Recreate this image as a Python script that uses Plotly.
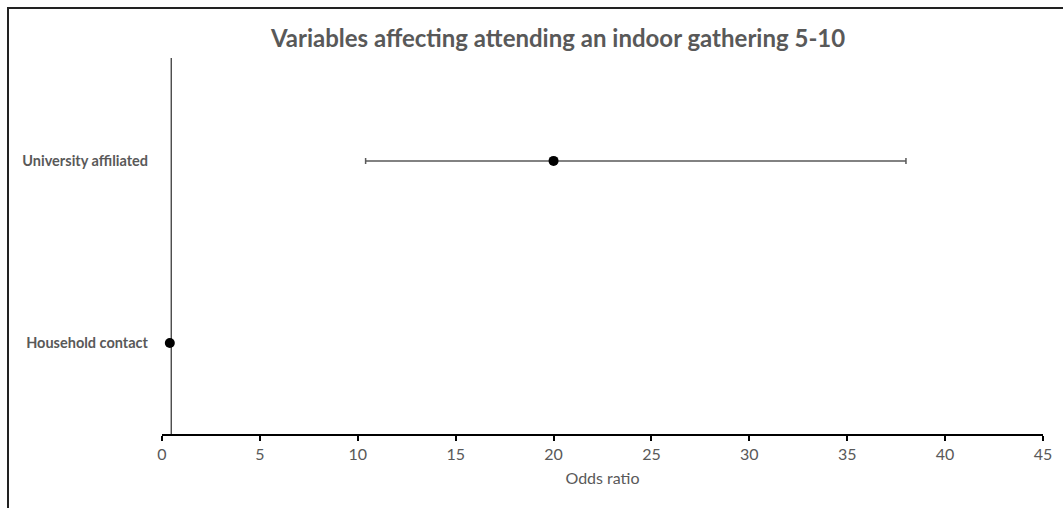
import plotly.graph_objects as go

categories = ["Household contact", "University affiliated"]
cat_pos = [1, 3]
odds = [0.4, 20.0]
ci_low = [0.4, 10.4]
ci_high = [0.4, 38.0]
ref_line_x = 0.47
x_ticks = [0, 5, 10, 15, 20, 25, 30, 35, 40, 45]

err_plus = [h - o for h, o in zip(ci_high, odds)]
err_minus = [o - l for o, l in zip(odds, ci_low)]

W, H = 1063, 508
L, R, T, B = 162, 20, 58, 74
pw, ph = W - L - R, H - T - B

fig = go.Figure()
# vertical reference line
fig.add_trace(go.Scatter(x=[ref_line_x, ref_line_x], y=[0, 4.13], mode="lines",
                         line=dict(color="black", width=1), hoverinfo="skip", showlegend=False))
fig.add_trace(go.Scatter(
    x=odds, y=cat_pos, mode="markers",
    marker=dict(color="black", size=10),
    error_x=dict(type="data", symmetric=False, array=err_plus, arrayminus=err_minus,
                 color="#5a5a5a", thickness=1.5, width=3),
    showlegend=False))

fig.update_layout(
    width=W, height=H,
    margin=dict(l=L, r=R, t=T, b=B),
    paper_bgcolor="white", plot_bgcolor="white",
    font=dict(family="Lato", color="#595959"),
    title=dict(text="<b>Variables affecting attending an indoor gathering 5-10</b>",
               x=0.525, xref="container", xanchor="center",
               y=1 - 39 / H, yref="container", yanchor="middle",
               font=dict(size=24, color="#595959", family="Lato")),
    xaxis=dict(range=[0, 45], tickvals=x_ticks, showgrid=False, zeroline=False,
               showline=True, linecolor="black", linewidth=1.5,
               ticks="outside", ticklen=5, tickcolor="black", tickwidth=1.5,
               tickfont=dict(size=16, color="#595959"),
               title=dict(text="Odds ratio", font=dict(size=16, color="#595959"), standoff=11)),
    yaxis=dict(range=[0, 4.13], tickvals=cat_pos, ticktext=["<b>%s</b>" % c for c in categories],
               showgrid=False, zeroline=False, showline=False, ticks="",
               ticklabelstandoff=13, tickfont=dict(size=14.5, color="#595959")),
    shapes=[dict(type="rect", xref="paper", yref="paper",
                 x0=(8 - L) / pw, x1=(W + 10 - L) / pw,
                 y0=-(B + 10) / ph, y1=(H - B - 8) / ph,
                 line=dict(color="#222222", width=2), fillcolor="rgba(0,0,0,0)", layer="below")],
)

fig.write_html("out.html")
